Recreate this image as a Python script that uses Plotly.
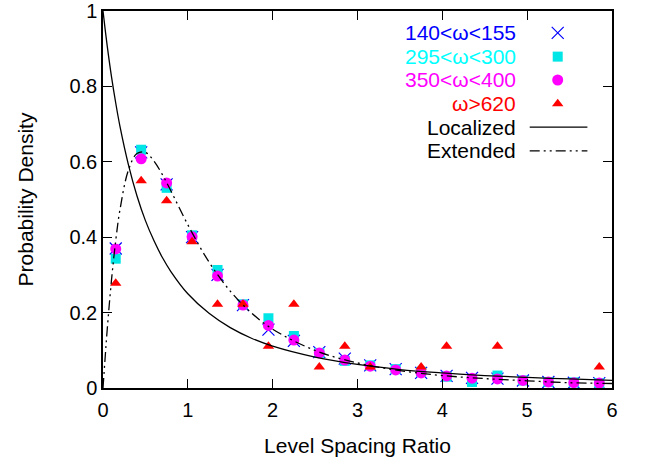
import plotly.graph_objects as go

# ---------------- data ----------------
bin_centers = [0.15, 0.45, 0.75, 1.05, 1.35, 1.65, 1.95, 2.25, 2.55, 2.85,
               3.15, 3.45, 3.75, 4.05, 4.35, 4.65, 4.95, 5.25, 5.55, 5.85]

w140_155 = [0.370, 0.625, 0.540, 0.400, 0.300, 0.220, 0.155, 0.125, 0.095, 0.078,
            0.060, 0.050, 0.040, 0.032, 0.027, 0.025, 0.020, 0.016, 0.014, 0.013]
w295_300 = [0.343, 0.632, 0.531, 0.405, 0.313, 0.222, 0.185, 0.138, 0.093, 0.072,
            0.060, 0.050, 0.043, 0.030, 0.016, 0.033, 0.020, 0.016, 0.015, 0.013]
w350_400 = [0.369, 0.608, 0.544, 0.401, 0.297, 0.220, 0.166, 0.127, 0.093, 0.074,
            0.058, 0.048, 0.040, 0.032, 0.026, 0.024, 0.020, 0.016, 0.014, 0.013]
w620 = [0.278, 0.550, 0.497, 0.388, 0.222, 0.222, 0.111, 0.222, 0.056, 0.111,
        0.056, None, 0.056, 0.111, None, 0.111, None, None, None, 0.056]

curve_x = [0, 0.025, 0.05, 0.1, 0.15, 0.2, 0.3, 0.4, 0.5, 0.6, 0.7, 0.8, 1.0,
           1.25, 1.5, 1.75, 2.0, 2.5, 3.0, 3.5, 4.0, 4.5, 5.0, 5.5, 6.0]
localized = [1.0, 0.952, 0.907, 0.826, 0.756, 0.694, 0.592, 0.510, 0.444, 0.391,
             0.346, 0.309, 0.250, 0.198, 0.160, 0.132, 0.111, 0.082, 0.0625,
             0.049, 0.040, 0.033, 0.028, 0.024, 0.020]
extended = [0.0, 0.08, 0.156, 0.286, 0.391, 0.473, 0.578, 0.622, 0.625, 0.602,
            0.566, 0.523, 0.433, 0.334, 0.257, 0.199, 0.156, 0.0995, 0.0665,
            0.046, 0.033, 0.025, 0.019, 0.014, 0.012]

series_names = ["140<ω<155", "295<ω<300", "350<ω<400", "ω>620"]
series_colors = ["#0000ff", "#00e5e5", "#ff00ff", "#ff0000"]
curve_names = ["Localized", "Extended"]

x_ticks = [0, 1, 2, 3, 4, 5, 6]
y_ticks = [0, 0.2, 0.4, 0.6, 0.8, 1]

FONT = "Liberation Sans"
fig = go.Figure()

marker_styles = [
    dict(symbol="x-thin", size=12, line=dict(width=1.2, color=series_colors[0])),
    dict(symbol="square", size=10, color=series_colors[1]),
    dict(symbol="circle", size=11, color=series_colors[2]),
    dict(symbol="triangle-up", size=10, color=series_colors[3]),
]
series_vals = [w140_155, w295_300, w350_400, w620]
for name, vals, ms in zip(series_names, series_vals, marker_styles):
    fig.add_trace(go.Scatter(x=bin_centers, y=vals, mode="markers", name=name,
                             marker=ms, showlegend=False, cliponaxis=False))

dash_ext = "10px,4px,2px,4px,2px,4px"
fig.add_trace(go.Scatter(x=curve_x, y=localized, mode="lines", name="Localized",
                         line=dict(color="black", width=1.3, shape="spline"),
                         showlegend=False))
fig.add_trace(go.Scatter(x=curve_x, y=extended, mode="lines", name="Extended",
                         line=dict(color="black", width=1.3, shape="spline",
                                   dash=dash_ext),
                         showlegend=False))

# ---------------- custom gnuplot-style key ----------------
key_rows = [0.942, 0.879, 0.817, 0.754, 0.692, 0.629]
key_text_x = 0.815   # paper fraction (right edge of text)
key_sym_x = 5.36     # data x of marker samples
annotations = []
all_names = series_names + curve_names
text_colors = ["#0000ff", "#00ffff", "#ff00ff", "#ff0000", "black", "black"]
for nm, yy, col in zip(all_names, key_rows, text_colors):
    annotations.append(dict(x=key_text_x, y=yy, xref="paper", yref="paper",
                            text=nm, showarrow=False, xanchor="right",
                            yanchor="middle",
                            font=dict(family=FONT, size=21, color=col)))
for ms, yy in zip(marker_styles, key_rows[:4]):
    fig.add_trace(go.Scatter(x=[key_sym_x], y=[yy], mode="markers",
                             marker=ms, showlegend=False, hoverinfo="skip"))
fig.add_trace(go.Scatter(x=[5.03, 5.71], y=[key_rows[4]] * 2, mode="lines",
                         line=dict(color="black", width=1.3), showlegend=False,
                         hoverinfo="skip"))
fig.add_trace(go.Scatter(x=[5.03, 5.71], y=[key_rows[5]] * 2, mode="lines",
                         line=dict(color="black", width=1.3, dash=dash_ext),
                         showlegend=False, hoverinfo="skip"))

axis_common = dict(showgrid=False, zeroline=False, showline=True,
                   linecolor="black", linewidth=1.5, mirror="ticks",
                   ticks="inside", ticklen=9, tickwidth=1, tickcolor="black",
                   automargin=False,
                   tickfont=dict(family=FONT, size=20, color="black"))

fig.update_layout(
    width=652, height=464,
    margin=dict(l=103, r=40, t=11, b=76),
    paper_bgcolor="white", plot_bgcolor="white",
    showlegend=False,
    annotations=annotations,
    xaxis=dict(range=[0, 6], tickvals=x_ticks, **axis_common,
               ticklabelstandoff=3,
               title=dict(text="Level Spacing Ratio",
                          font=dict(family=FONT, size=21, color="black"),
                          standoff=19)),
    yaxis=dict(range=[0, 1], tickvals=y_ticks, **axis_common,
               title=dict(text="Probability Density",
                          font=dict(family=FONT, size=21, color="black"),
                          standoff=30)),
)

fig.write_html("out.html")
